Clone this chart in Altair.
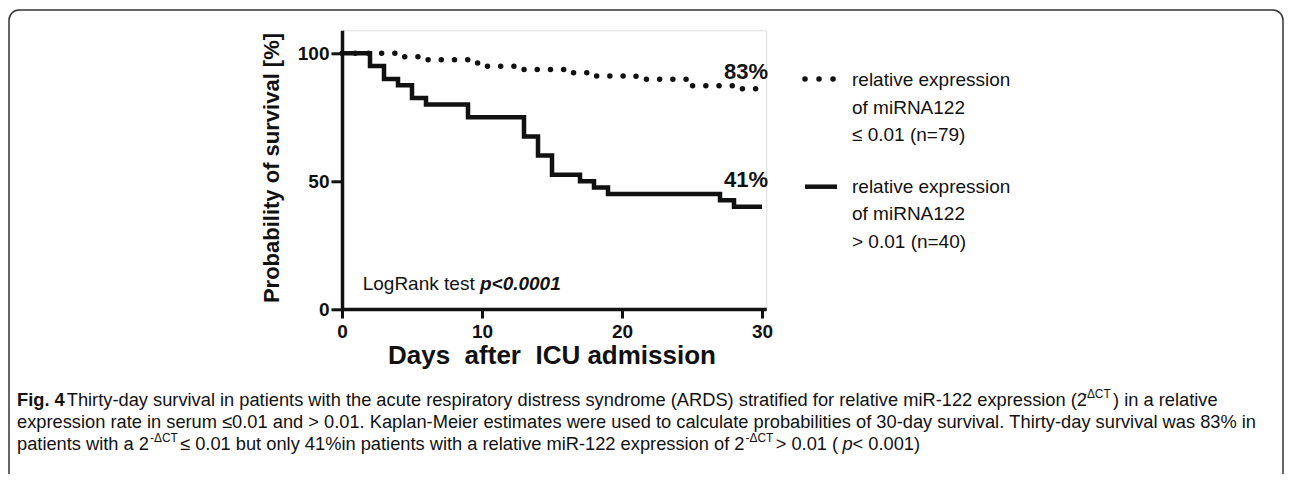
import altair as alt
import pandas as pd

# ---------------- data ----------------
solid_days = [0, 2, 3, 4, 5, 6, 9, 13, 14, 15, 17, 18, 19, 27, 28, 30]
solid_surv = [100, 95, 90, 87.5, 82.5, 80, 75, 67.5, 60, 52.5, 50, 47.5, 45, 42.5, 40, 40]

dotted_days = [0, 4, 6, 9, 10, 13, 16, 18, 21, 25, 28, 29.7, 30]
dotted_surv = [100, 98.7, 97.5, 96.2, 94.9, 93.7, 92.4, 91.1, 89.9, 87.3, 86.1, 83.5, 83.5]

x_ticks = [0, 10, 20, 30]
y_ticks = [0, 50, 100]

end_labels = ["83%", "41%"]
legend_lines_dotted = ["relative expression", "of miRNA122", "\u2264 0.01 (n=79)"]
legend_lines_solid = ["relative expression", "of miRNA122", "> 0.01 (n=40)"]
y_title = "Probability of survival [%]"
x_title = "Days  after  ICU admission"
logrank_a = "LogRank test "
logrank_b = "p<0.0001"

# caption segments: (text, style)  style: b=bold, r=regular, s=superscript, i=italic
caption = [
    [("Fig. 4", "b"),
     (" Thirty-day survival in patients with the acute respiratory distress syndrome (ARDS) stratified for relative miR-122 expression (2", "r"),
     ("-\u0394CT", "s"), (") in a relative", "r")],
    [("expression rate in serum \u22640.01 and > 0.01. Kaplan-Meier estimates were used to calculate probabilities of 30-day survival. Thirty-day survival was 83% in", "r")],
    [("patients with a 2", "r"), ("-\u0394CT", "s"),
     (" \u2264 0.01 but only 41%in patients with a relative miR-122 expression of 2", "r"),
     ("-\u0394CT", "s"), (" > 0.01 (", "r"), ("p", "i"), (" < 0.001)", "r")],
]

# ---------------- layout helpers ----------------
HELV = {' ': 278, '!': 278, '"': 355, '#': 556, '$': 556, '%': 889, '&': 667, "'": 191, '(': 333, ')': 333,
        '*': 389, '+': 584, ',': 278, '-': 333, '.': 278, '/': 278, ':': 278, ';': 278, '<': 584, '=': 584,
        '>': 584, '?': 556, '@': 1015, 'A': 667, 'B': 667, 'C': 722, 'D': 722, 'E': 667, 'F': 611, 'G': 778,
        'H': 722, 'I': 278, 'J': 500, 'K': 667, 'L': 556, 'M': 833, 'N': 722, 'O': 778, 'P': 667, 'Q': 778,
        'R': 722, 'S': 667, 'T': 611, 'U': 722, 'V': 667, 'W': 944, 'X': 667, 'Y': 667, 'Z': 611, '[': 278,
        ']': 278, 'a': 556, 'b': 556, 'c': 500, 'd': 556, 'e': 556, 'f': 278, 'g': 556, 'h': 556, 'i': 222,
        'j': 222, 'k': 500, 'l': 222, 'm': 833, 'n': 556, 'o': 556, 'p': 556, 'q': 556, 'r': 333, 's': 500,
        't': 278, 'u': 556, 'v': 500, 'w': 722, 'x': 500, 'y': 500, 'z': 500, '\u2264': 549, '\u0394': 612,
        '\u00a0': 278}
for d in "0123456789":
    HELV[d] = 556
HELV_B = dict(HELV)
HELV_B.update({'F': 611, 'i': 278, 'g': 611, '.': 278, ' ': 278})

NBSP = "\u00a0"
KERN = 0.988  # rendered text runs slightly shorter than the raw advance widths


def keep_spaces(s):
    # SVG collapses leading/trailing/double spaces: use no-break spaces for layout
    return s.replace(" ", NBSP)


def width(s, size, bold=False, factor=1.0):
    tab = HELV_B if bold else HELV
    return sum(tab.get(c, 556) for c in s) / 1000.0 * size * factor


FONT = "Liberation Sans"
CAP_FONT = "Liberation Sans"
INK = "#111111"

# plot origin on page: x=342, y=30.3 ; 14 px/day, 2.557 px/%
X0, Y0 = 342.0, 30.3
PX_DAY, PX_PCT = 14.0, 2.557
X_MAX, Y_MAX = 30.3, 109.0
W = X_MAX * PX_DAY
H = Y_MAX * PX_PCT


def rx(px):
    return px - X0


def ry(py):
    return py - Y0


def txt(s, x, y, size, weight="normal", style="normal", align="left", angle=0, font=FONT, baseline="alphabetic"):
    return alt.Chart(pd.DataFrame({"t": [keep_spaces(s)]})).mark_text(
        align=align, baseline=baseline, fontSize=size, fontWeight=weight, fontStyle=style,
        font=font, angle=angle, color=INK
    ).encode(x=alt.value(x), y=alt.value(y), text="t:N")


# ---------------- curves ----------------
km = pd.concat([
    pd.DataFrame({"day": solid_days, "surv": solid_surv, "grp": "high"}),
    pd.DataFrame({"day": dotted_days, "surv": dotted_surv, "grp": "low"}),
])

xenc = alt.X("day:Q", scale=alt.Scale(domain=[0, X_MAX], nice=False),
             axis=alt.Axis(values=x_ticks, title=None, grid=False, domainColor=INK, domainWidth=3.5,
                           tickColor=INK, tickWidth=3, tickSize=9, labelFont=FONT, labelFontWeight="bold",
                           labelFontSize=19, labelColor=INK, labelPadding=4, labelFlush=False, format="d"))
yenc = alt.Y("surv:Q", scale=alt.Scale(domain=[0, Y_MAX], nice=False),
             axis=alt.Axis(values=y_ticks, title=None, grid=False, domainColor=INK, domainWidth=3.5,
                           tickColor=INK, tickWidth=3, tickSize=11, labelFont=FONT, labelFontWeight="bold",
                           labelFontSize=19, labelColor=INK, labelPadding=2, labelFlush=False, format="d"))

solid = alt.Chart(km).transform_filter(alt.datum.grp == "high").mark_line(
    interpolate="step-after", strokeWidth=4.5, color=INK).encode(x=xenc, y=yenc)
dotted = alt.Chart(km).transform_filter(alt.datum.grp == "low").mark_line(
    interpolate="step-after", strokeWidth=5.5, color=INK, strokeDash=[0.01, 13.2], strokeCap="round"
).encode(x=xenc, y=yenc)

layers = [solid, dotted]

# end labels
layers.append(txt(end_labels[0], rx(768), ry(79.3), 22, weight="bold", align="right"))
layers.append(txt(end_labels[1], rx(768), ry(186.7), 22, weight="bold", align="right"))

# legend symbols
layers.append(alt.Chart(pd.DataFrame({"a": [0]})).mark_rule(
    strokeDash=[0.01, 14], strokeCap="round", strokeWidth=5.5, color=INK
).encode(x=alt.value(rx(805)), x2=alt.value(rx(834)), y=alt.value(ry(79))))
layers.append(alt.Chart(pd.DataFrame({"a": [0]})).mark_rule(
    strokeWidth=4.5, color=INK
).encode(x=alt.value(rx(805)), x2=alt.value(rx(837)), y=alt.value(ry(186.7))))

for i, s in enumerate(legend_lines_dotted):
    layers.append(txt(s, rx(852), ry(86 + 27.7 * i), 19))
for i, s in enumerate(legend_lines_solid):
    layers.append(txt(s, rx(852), ry(192.5 + 27.7 * i), 19))

# log-rank annotation
lr_size = 19
layers.append(txt(logrank_a, rx(362.7), ry(290), lr_size))
layers.append(txt(logrank_b, rx(362.7) + width(logrank_a, lr_size), ry(290), lr_size,
                  weight="bold", style="italic"))

# axis titles
layers.append(txt(y_title, rx(272), ry(168), 22, weight="bold", align="center", angle=270, baseline="middle"))
layers.append(txt(x_title, rx(552), ry(364), 26, weight="bold", align="center"))

# caption: size chosen so the second (plain) line spans the text block
line2_em = width(caption[1][0][0], 1.0) * KERN
cap_size = (1242.0 - 17.0) / line2_em
SUP_BEFORE = 2.5
SUP_AFTER = 3.0
cap_base = [406, 428, 450]
for li, segs in enumerate(caption):
    cx = rx(17)
    for s, st in segs:
        if st == "s":
            sz = cap_size * 0.65
            layers.append(txt(s, cx + SUP_BEFORE, ry(cap_base[li]) - cap_size * 0.42, sz, font=CAP_FONT))
            cx += SUP_BEFORE + width(s, sz) + SUP_AFTER
        elif st == "b":
            layers.append(txt(s, cx, ry(cap_base[li]), cap_size, font=CAP_FONT, weight="bold"))
            cx += width(s, cap_size, bold=True) + 2.0
        else:
            layers.append(txt(s, cx, ry(cap_base[li]), cap_size, font=CAP_FONT,
                              style="italic" if st == "i" else "normal"))
            cx += width(s, cap_size) * KERN

# frame
layers.append(alt.Chart(pd.DataFrame({"a": [0]})).mark_rect(
    fillOpacity=0, stroke="#333333", strokeWidth=1.5, cornerRadius=10
).encode(x=alt.value(rx(9)), x2=alt.value(rx(1283)), y=alt.value(ry(10)), y2=alt.value(ry(520))))

TOTAL_W, TOTAL_H = 1276, 466
pad_left = X0 - 8
pad_top = Y0 - 8
chart = alt.layer(*layers).properties(
    width=W, height=H,
    padding={"left": pad_left, "top": pad_top, "right": TOTAL_W - pad_left - W,
             "bottom": TOTAL_H - pad_top - H},
    autosize=alt.AutoSizeParams(type="none"),
).configure_view(stroke=None).configure(background="white")

chart.save("out.html", embed_options={"renderer": "svg", "actions": False})
